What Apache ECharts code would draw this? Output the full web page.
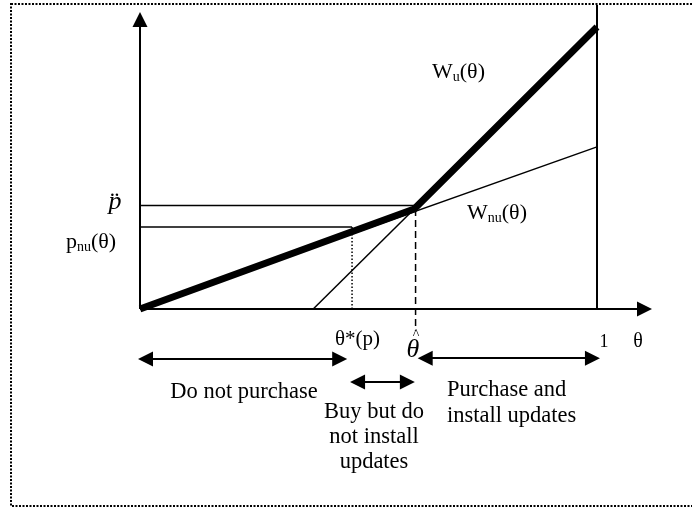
<!DOCTYPE html>
<html>
<head>
<meta charset="utf-8">
<script src="https://cdn.jsdelivr.net/npm/echarts@6/dist/echarts.min.js"></script>
<style>html,body{margin:0;padding:0;background:#fff}#c{width:692px;height:507px}</style>
</head>
<body>
<div id="c"></div>
<script>
// ---- data (theta on x, welfare/price on y) ----
const thetaHat = 0.6;
const thetaStar = 0.464;
const wuThick = [[0, 0], [0.6, 0.346], [1, 0.976]];      // envelope (bold)
const wnuLine = [[0, 0], [1, 0.561]];                      // W_nu(theta)
const wuThin = [[0.379, 0], [0.6, 0.346]];                 // W_u(theta) below kink
const pHatLine = [[0, 0.358], [0.6, 0.358]];
const pNuLine = [[0, 0.284], [0.464, 0.284]];
const thetaStarDrop = [[0.464, 0], [0.464, 0.284]];
const thetaHatDrop = [[0.603, 0.346], [0.603, -0.075]];
const oneLine = [[1, 0], [1, 1.052]];
const xAxisLine = [[0, 0], [1.104, 0]];
const yAxisLine = [[0, 0], [0, 1.002]];
const regionArrows = [
  [[0.012, -0.173], [0.437, -0.173]],
  [[0.476, -0.253], [0.585, -0.253]],
  [[0.624, -0.170], [0.990, -0.170]]
];

const chart = echarts.init(document.getElementById('c'), null, {renderer: 'canvas'});
const FONT = '"Liberation Serif", "Times New Roman", serif';

function seg(data, width, type, extra) {
  return Object.assign({
    type: 'line', data: data, showSymbol: false, symbol: 'none', clip: false,
    silent: true, animation: false,
    lineStyle: {color: '#000', width: width, type: type || 'solid'}
  }, extra || {});
}

const series = [
  seg(wnuLine, 1.5),
  seg(wuThin, 1.5),
  seg(pHatLine, 1.5),
  seg(pNuLine, 1.5),
  seg(thetaStarDrop, 1.5, [1.5, 2]),
  seg(thetaHatDrop, 1.5, [7, 4]),
  seg(oneLine, 2),
  seg(wuThick, 7, 'solid', {lineStyle: {color: '#000', width: 7, join: 'miter', cap: 'butt'}}),
  {
    type: 'lines', coordinateSystem: 'cartesian2d', silent: true, animation: false, clip: false,
    symbol: ['none', 'triangle'], symbolSize: 15,
    lineStyle: {color: '#000', width: 2, opacity: 1},
    itemStyle: {color: '#000'},
    data: [{coords: xAxisLine}, {coords: yAxisLine}]
  },
  {
    type: 'lines', coordinateSystem: 'cartesian2d', silent: true, animation: false, clip: false,
    symbol: ['triangle', 'triangle'], symbolSize: 15,
    lineStyle: {color: '#000', width: 2, opacity: 1},
    itemStyle: {color: '#000'},
    data: regionArrows.map(c => ({coords: c}))
  }
];

function txt(text, x, y, size, opts) {
  return {
    type: 'text', silent: true,
    style: Object.assign({
      text: text, x: x, y: y, fill: '#000',
      font: (opts && opts.italic ? 'italic ' : '') + size + 'px ' + FONT,
      textAlign: 'left', textVerticalAlign: 'middle'
    }, (opts && opts.style) || {})
  };
}

function subText(main, sub, tail, x, y) {
  return {
    type: 'text', silent: true,
    style: {
      x: x, y: y, textVerticalAlign: 'middle', textAlign: 'left',
      text: '{m|' + main + '}{s|' + sub + '}{m|' + tail + '}',
      rich: {
        m: {fontSize: 22, fontFamily: FONT, color: '#000', lineHeight: 24},
        s: {fontSize: 14, fontFamily: FONT, color: '#000', lineHeight: 14, verticalAlign: 'bottom'}
      }
    }
  };
}

chart.setOption({
  animation: false,
  backgroundColor: '#fff',
  grid: {left: 140, top: 20, width: 507.27, height: 289},
  xAxis: {type: 'value', min: 0, max: 1.11, axisLine: {show: false}, axisTick: {show: false},
          axisLabel: {show: false}, splitLine: {show: false}},
  yAxis: {type: 'value', min: 0, max: 1, axisLine: {show: false}, axisTick: {show: false},
          axisLabel: {show: false}, splitLine: {show: false}},
  series: series,
  graphic: [
    {type: 'rect', silent: true, shape: {x: 11, y: 4, width: 720, height: 502},
     style: {fill: 'none', stroke: '#000', lineWidth: 2, lineDash: [2, 1.5]}},
    subText('W', 'u', '(θ)', 432, 72),
    subText('W', 'nu', '(θ)', 467, 213),
    subText('p', 'nu', '(θ)', 66, 242),
    txt('p\u0308', 115, 202, 26, {italic: true, style: {textAlign: 'center'}}),
    txt('θ*(p)', 335, 339, 21),
    txt('θ', 413, 350, 26, {italic: true, style: {textAlign: 'center'}}),
    txt('^', 416, 335, 14, {style: {textAlign: 'center'}}),
    txt('1', 604, 342, 18, {style: {textAlign: 'center'}}),
    txt('θ', 638, 342, 20, {style: {textAlign: 'center'}}),
    txt('Do not purchase', 244, 392, 22.5, {style: {textAlign: 'center'}}),
    txt('Buy but do\nnot install\nupdates', 374, 437, 22.5, {style: {textAlign: 'center', lineHeight: 25}}),
    txt('Purchase and\ninstall updates', 447, 403, 22.5, {style: {lineHeight: 26}})
  ]
});
</script>
</body>
</html>
